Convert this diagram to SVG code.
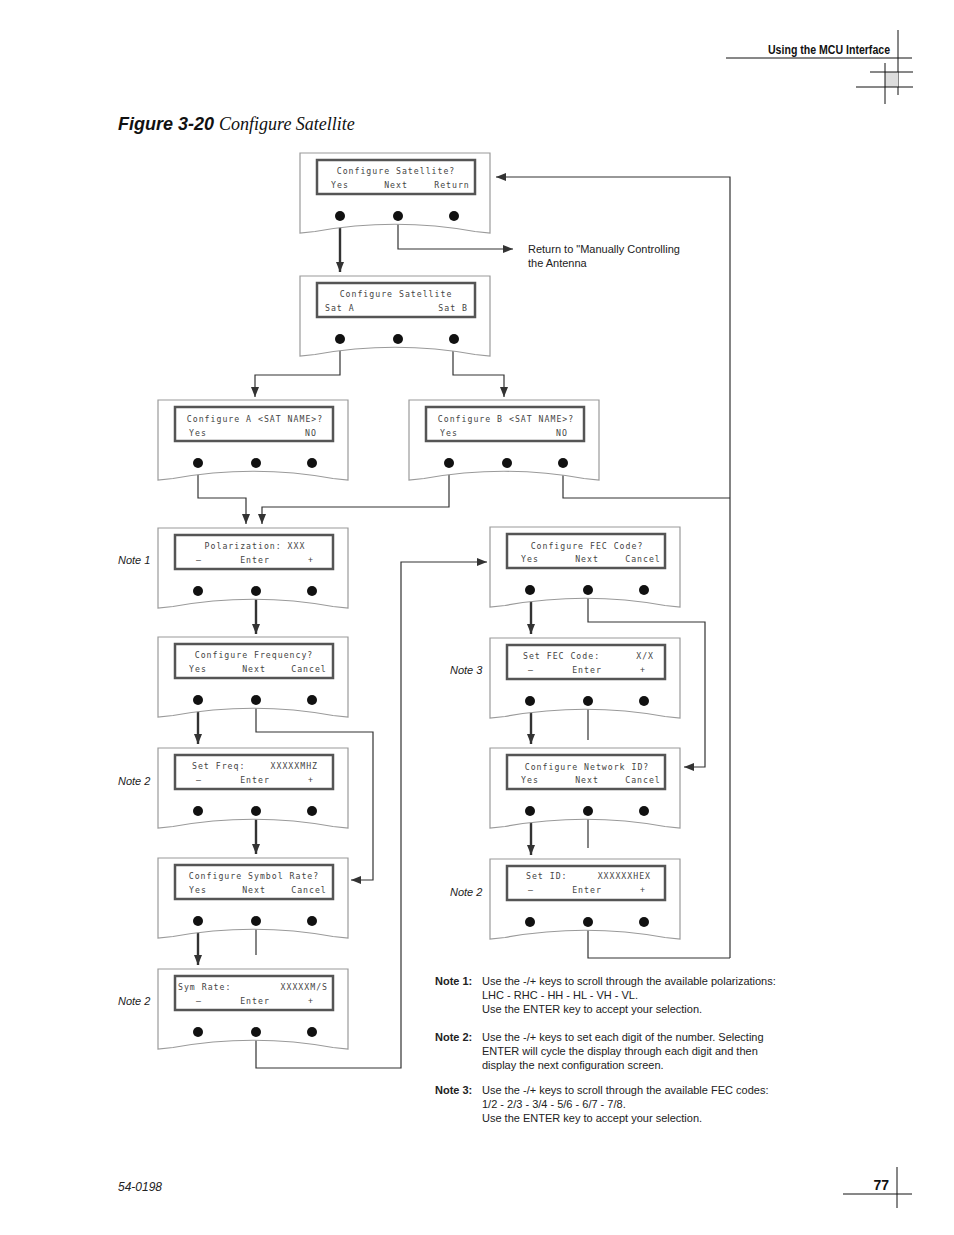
<svg xmlns="http://www.w3.org/2000/svg" width="954" height="1235" viewBox="0 0 954 1235">
<style>
.pn{fill:#fff;stroke:#9a9a9a;stroke-width:1.2}
.dp{fill:#fff;stroke:#555;stroke-width:2.5}
.bt{fill:#111}
.lcd{font-family:"DejaVu Sans Mono",monospace;font-size:8.2px;fill:#444;letter-spacing:1px}
.c{text-anchor:middle}
.e{text-anchor:end}
.thick{fill:none;stroke:#333;stroke-width:2.4}
.thin{fill:none;stroke:#333;stroke-width:1.2}
.note{font-family:"Liberation Sans",Arial,sans-serif;font-size:11px;fill:#222}
.side{font-family:"Liberation Sans",Arial,sans-serif;font-size:11px;font-style:italic;fill:#222}
</style>
<defs>
<g id="panel">
<path class="pn" d="M0,80 L0,0 L190,0 L190,80 L175,78.5 Q95,64 15,78.5 Z"/>
<rect class="dp" x="17" y="7" width="158" height="34"/>
<circle class="bt" cx="40" cy="63" r="5"/>
<circle class="bt" cx="98" cy="63" r="5"/>
<circle class="bt" cx="154" cy="63" r="5"/>
</g>
<marker id="ah" viewBox="0 0 10 8" refX="10" refY="4" markerWidth="10" markerHeight="8" markerUnits="userSpaceOnUse" orient="auto">
<path d="M0,0 L10,4 L0,8 Z" fill="#333"/>
</marker>
</defs>

<!-- header -->
<g id="header">
<text x="890" y="54" text-anchor="end" font-family="Liberation Sans,Arial,sans-serif" font-weight="bold" font-size="12" textLength="122" lengthAdjust="spacingAndGlyphs" fill="#111">Using the MCU Interface</text>
<line x1="726" y1="58" x2="912" y2="58" stroke="#111" stroke-width="1"/>
<line x1="898" y1="30" x2="898" y2="95" stroke="#111" stroke-width="1"/>
<rect x="885" y="72" width="13" height="15" fill="#ddd"/>
<line x1="870" y1="72" x2="913" y2="72" stroke="#111" stroke-width="1"/>
<line x1="856" y1="87" x2="913" y2="87" stroke="#111" stroke-width="1"/>
<line x1="885" y1="63" x2="885" y2="104" stroke="#111" stroke-width="1"/>
</g>

<g id="title">
<text x="118" y="130" font-family="Liberation Sans,Arial,sans-serif" font-size="18" font-weight="bold" font-style="italic" fill="#111">Figure 3-20 <tspan font-family="Liberation Serif,serif" font-weight="normal">Configure Satellite</tspan></text>
</g>

<!-- connectors -->
<g id="connectors">
<path class="thick" d="M340,222 V272" marker-end="url(#ah)"/>
<path class="thin" d="M398,222 V249 H513" marker-end="url(#ah)"/>
<path class="thin" d="M730,958 V177 H496" marker-end="url(#ah)"/>
<path class="thin" d="M340,345 V375 H255 V397" marker-end="url(#ah)"/>
<path class="thin" d="M453,345 V375 H504 V397" marker-end="url(#ah)"/>
<path class="thin" d="M198,470 V498 H246 V524" marker-end="url(#ah)"/>
<path class="thin" d="M449,470 V507 H262 V524" marker-end="url(#ah)"/>
<path class="thin" d="M563,470 V498 H730"/>
<path class="thick" d="M256,597 V634" marker-end="url(#ah)"/>
<path class="thick" d="M198,706 V744" marker-end="url(#ah)"/>
<path class="thin" d="M256,706 V732 H373 V880 H351" marker-end="url(#ah)"/>
<path class="thick" d="M256,818 V854" marker-end="url(#ah)"/>
<path class="thick" d="M198,927 V965" marker-end="url(#ah)"/>
<path class="thin" d="M256,927 V955"/>
<path class="thin" d="M256,1038 V1068 H401 V562 H487" marker-end="url(#ah)"/>
<path class="thick" d="M531,596 V634" marker-end="url(#ah)"/>
<path class="thin" d="M588,596 V622 H705 V767 H684" marker-end="url(#ah)"/>
<path class="thick" d="M531,707 V744" marker-end="url(#ah)"/>
<path class="thin" d="M588,707 V740"/>
<path class="thick" d="M531,817 V855" marker-end="url(#ah)"/>
<path class="thin" d="M588,817 V848"/>
<path class="thin" d="M588,928 V958 H730"/>
</g>

<g id="n1"><use href="#panel" x="300" y="153"/>
<text class="lcd c" x="396" y="174">Configure Satellite?</text>
<text class="lcd c" x="340" y="188">Yes</text><text class="lcd c" x="396" y="188">Next</text><text class="lcd c" x="452" y="188">Return</text></g>

<g id="ret"><text class="note" x="528" y="253">Return to "Manually Controlling</text><text class="note" x="528" y="267">the Antenna</text></g>

<g id="n2"><use href="#panel" x="300" y="276"/>
<text class="lcd c" x="396" y="297">Configure Satellite</text>
<text class="lcd" x="325" y="311">Sat A</text><text class="lcd e" x="468" y="311">Sat B</text></g>

<g id="nA"><use href="#panel" x="158" y="400"/>
<text class="lcd c" x="255" y="422">Configure A &lt;SAT NAME&gt;?</text>
<text class="lcd c" x="198" y="436">Yes</text><text class="lcd c" x="311" y="436">NO</text></g>

<g id="nB"><use href="#panel" x="409" y="400"/>
<text class="lcd c" x="506" y="422">Configure B &lt;SAT NAME&gt;?</text>
<text class="lcd c" x="449" y="436">Yes</text><text class="lcd c" x="562" y="436">NO</text></g>

<g id="nPol"><use href="#panel" x="158" y="528"/>
<text class="lcd c" x="255" y="549">Polarization: XXX</text>
<text class="lcd c" x="199" y="563">–</text><text class="lcd c" x="255" y="563">Enter</text><text class="lcd c" x="311" y="563">+</text></g>

<g id="nFreq"><use href="#panel" x="158" y="637"/>
<text class="lcd c" x="254" y="658">Configure Frequency?</text>
<text class="lcd c" x="198" y="672">Yes</text><text class="lcd c" x="254" y="672">Next</text><text class="lcd c" x="309" y="672">Cancel</text></g>

<g id="nSetFreq"><use href="#panel" x="158" y="748"/>
<text class="lcd" x="192" y="769">Set Freq:</text><text class="lcd e" x="318" y="769">XXXXXMHZ</text>
<text class="lcd c" x="199" y="783">–</text><text class="lcd c" x="255" y="783">Enter</text><text class="lcd c" x="311" y="783">+</text></g>

<g id="nSym"><use href="#panel" x="158" y="858"/>
<text class="lcd c" x="254" y="879">Configure Symbol Rate?</text>
<text class="lcd c" x="198" y="893">Yes</text><text class="lcd c" x="254" y="893">Next</text><text class="lcd c" x="309" y="893">Cancel</text></g>

<g id="nSymRate"><use href="#panel" x="158" y="969"/>
<text class="lcd" x="178" y="990">Sym Rate:</text><text class="lcd e" x="328" y="990">XXXXXM/S</text>
<text class="lcd c" x="199" y="1004">–</text><text class="lcd c" x="255" y="1004">Enter</text><text class="lcd c" x="311" y="1004">+</text></g>

<g id="nFEC"><use href="#panel" x="490" y="527"/>
<text class="lcd c" x="587" y="549">Configure FEC Code?</text>
<text class="lcd c" x="530" y="562">Yes</text><text class="lcd c" x="587" y="562">Next</text><text class="lcd c" x="643" y="562">Cancel</text></g>

<g id="nSetFEC"><use href="#panel" x="490" y="638"/>
<text class="lcd" x="523" y="659">Set FEC Code:</text><text class="lcd e" x="654" y="659">X/X</text>
<text class="lcd c" x="531" y="673">–</text><text class="lcd c" x="587" y="673">Enter</text><text class="lcd c" x="643" y="673">+</text></g>

<g id="nNet"><use href="#panel" x="490" y="748"/>
<text class="lcd c" x="587" y="770">Configure Network ID?</text>
<text class="lcd c" x="530" y="783">Yes</text><text class="lcd c" x="587" y="783">Next</text><text class="lcd c" x="643" y="783">Cancel</text></g>

<g id="nSetID"><use href="#panel" x="490" y="859"/>
<text class="lcd" x="526" y="879">Set ID:</text><text class="lcd e" x="651" y="879">XXXXXXHEX</text>
<text class="lcd c" x="531" y="893">–</text><text class="lcd c" x="587" y="893">Enter</text><text class="lcd c" x="643" y="893">+</text></g>

<g id="sidenotes">
<text class="side" x="118" y="564">Note 1</text>
<text class="side" x="118" y="785">Note 2</text>
<text class="side" x="118" y="1005">Note 2</text>
<text class="side" x="450" y="674">Note 3</text>
<text class="side" x="450" y="896">Note 2</text>
</g>

<g id="notes">
<text class="note" x="435" y="985"><tspan font-weight="bold">Note 1:</tspan></text>
<text class="note" x="482" y="985">Use the -/+ keys to scroll through the available polarizations:</text>
<text class="note" x="482" y="999">LHC - RHC - HH - HL - VH - VL.</text>
<text class="note" x="482" y="1013">Use the ENTER key to accept your selection.</text>
<text class="note" x="435" y="1041"><tspan font-weight="bold">Note 2:</tspan></text>
<text class="note" x="482" y="1041">Use the -/+ keys to set each digit of the number. Selecting</text>
<text class="note" x="482" y="1055">ENTER will cycle the display through each digit and then</text>
<text class="note" x="482" y="1069">display the next configuration screen.</text>
<text class="note" x="435" y="1094"><tspan font-weight="bold">Note 3:</tspan></text>
<text class="note" x="482" y="1094">Use the -/+ keys to scroll through the available FEC codes:</text>
<text class="note" x="482" y="1108">1/2 - 2/3 - 3/4 - 5/6 - 6/7 - 7/8.</text>
<text class="note" x="482" y="1122">Use the ENTER key to accept your selection.</text>
</g>

<g id="footer">
<text x="118" y="1191" font-family="Liberation Sans,Arial,sans-serif" font-size="12" font-style="italic" fill="#222">54-0198</text>
<text x="889" y="1190" text-anchor="end" font-family="Liberation Sans,Arial,sans-serif" font-size="14" font-weight="bold" fill="#111">77</text>
<line x1="897" y1="1167" x2="897" y2="1208" stroke="#111" stroke-width="1"/>
<line x1="843" y1="1194" x2="912" y2="1194" stroke="#111" stroke-width="1"/>
</g>
</svg>
